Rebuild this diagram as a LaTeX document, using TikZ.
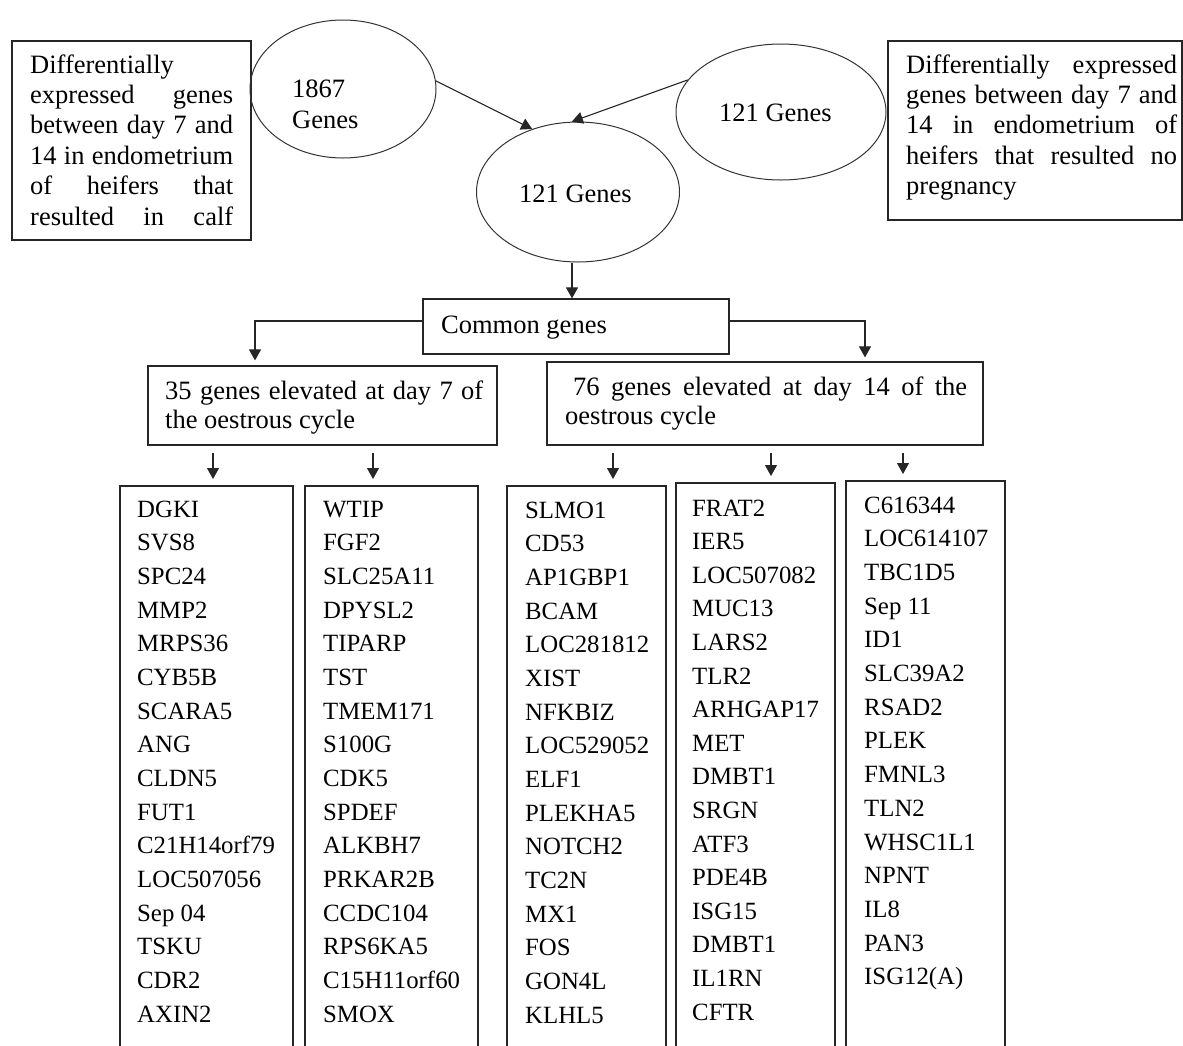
\documentclass[tikz,border=0pt]{standalone}
\usepackage{fontspec}
\setmainfont{Liberation Serif}
\usetikzlibrary{shapes.geometric,arrows.meta}
\begin{document}
\begin{tikzpicture}[x=1pt,y=-1pt,
 ln/.style={draw=black!85,line width=1.1pt},
 arr/.style={ln,-{Triangle[length=11pt,width=12pt]}},
 txt/.style={anchor=base west,inner sep=0pt,font=\fontsize{26.5}{30}\selectfont},
 gene/.style={anchor=base west,inner sep=0pt,font=\fontsize{24.8}{30}\selectfont},
 oval/.style={ellipse,draw=black!80,line width=1pt,inner sep=0pt},
 box/.style={draw=black!85,line width=1.2pt,rectangle,inner sep=0pt}]
\useasboundingbox (0,0) rectangle (1183,1045);

% top boxes
\node[box,minimum width=239pt,minimum height=199pt] (lbox) at (131.5,140.5) {};
\node[box,minimum width=294pt,minimum height=179pt] (rbox) at (1035,130.5) {};
\node[txt] (l1) at (30,73) {Differentially};
\node[txt] (l2) at (30,103.4) {\makebox[203pt][s]{expressed genes}};
\node[txt] (l3) at (30,133.8) {\makebox[203pt][s]{between day 7 and}};
\node[txt] (l4) at (30,164.2) {\makebox[203pt][s]{14 in endometrium}};
\node[txt] (l5) at (30,194.6) {\makebox[203pt][s]{of heifers that}};
\node[txt] (l6) at (30,225) {\makebox[203pt][s]{resulted in calf}};
\node[txt] (r1) at (906,73) {\makebox[271pt][s]{Differentially expressed}};
\node[txt] (r2) at (906,103.4) {\makebox[271pt][s]{genes between day 7 and}};
\node[txt] (r3) at (906,133.8) {\makebox[271pt][s]{14 in endometrium of}};
\node[txt] (r4) at (906,164.2) {\makebox[271pt][s]{heifers that resulted no}};
\node[txt] (r5) at (906,194.6) {pregnancy};

% ellipses
\node[oval,minimum width=186pt,minimum height=138pt] (e1) at (343,89) {};
\node[oval,minimum width=210pt,minimum height=136pt] (e2) at (781,112) {};
\node[oval,minimum width=203pt,minimum height=140pt] (e3) at (578,192) {};
\node[txt] (e1a) at (292,97) {1867};
\node[txt] (e1b) at (292,128) {Genes};
\node[txt] (e2a) at (719,121) {121 Genes};
\node[txt] (e3a) at (519,202) {121 Genes};

\draw[arr] (e1.5) -- (e3.126);
\draw[arr] (e2.161) -- (e3.95);

% common genes
\node[box,minimum width=306pt,minimum height=55pt] (cg) at (576,326.5) {};
\node[txt] (cgt) at (441,333) {Common genes};
\coordinate (e3b) at ([xshift=-6pt]e3.south);
\draw[arr] (e3b) -- (e3b |- cg.north);

\node[box,minimum width=349pt,minimum height=79pt] (b35) at (322.5,405.5) {};
\node[box,minimum width=436pt,minimum height=83pt] (b76) at (765,403.5) {};
\node[txt] (b35a) at (165,399) {\makebox[318pt][s]{35 genes elevated at day 7 of}};
\node[txt] (b35b) at (165,428) {the oestrous cycle};
\node[txt] (b76a) at (573,395) {\makebox[394pt][s]{76 genes elevated at day 14 of the}};
\node[txt] (b76b) at (565,424) {oestrous cycle};

\draw[arr,shorten >=5pt] ([yshift=5.5pt]cg.west) -| ([xshift=-67.5pt]b35.north);
\draw[arr,shorten >=4pt] ([yshift=5.5pt]cg.east) -| ([xshift=100pt]b76.north);

% list boxes (open at bottom)
\foreach \n/\xa/\xb/\yt/\xr in {1/120/293/486/213, 2/305/478/486/373, 3/507/666/486/613, 4/676/835/483/771, 5/846/1005/481/903}{
  \draw[ln] (\xa,1046) -- (\xa,\yt) -- (\xb,\yt) -- (\xb,1046);
  \coordinate (s\n) at (\xr,453);
  \coordinate (t\n) at (\xr,\yt);
  \draw[arr,shorten >=7pt] (s\n) -- (t\n);
}

\foreach \g [count=\i] in {DGKI,SVS8,SPC24,MMP2,MRPS36,CYB5B,SCARA5,ANG,CLDN5,FUT1,C21H14orf79,LOC507056,Sep 04,TSKU,CDR2,AXIN2}
  \node[gene] (ca\i) at (137,{517+33.67*(\i-1)}) {\g};
\foreach \g [count=\i] in {WTIP,FGF2,SLC25A11,DPYSL2,TIPARP,TST,TMEM171,S100G,CDK5,SPDEF,ALKBH7,PRKAR2B,CCDC104,RPS6KA5,C15H11orf60,SMOX}
  \node[gene] (cb\i) at (323,{517+33.67*(\i-1)}) {\g};
\foreach \g [count=\i] in {SLMO1,CD53,AP1GBP1,BCAM,LOC281812,XIST,NFKBIZ,LOC529052,ELF1,PLEKHA5,NOTCH2,TC2N,MX1,FOS,GON4L,KLHL5}
  \node[gene] (cc\i) at (525,{518+33.67*(\i-1)}) {\g};
\foreach \g [count=\i] in {FRAT2,IER5,LOC507082,MUC13,LARS2,TLR2,ARHGAP17,MET,DMBT1,SRGN,ATF3,PDE4B,ISG15,DMBT1,IL1RN,CFTR}
  \node[gene] (cd\i) at (692,{516+33.6*(\i-1)}) {\g};
\foreach \g [count=\i] in {C616344,LOC614107,TBC1D5,Sep 11,ID1,SLC39A2,RSAD2,PLEK,FMNL3,TLN2,WHSC1L1,NPNT,IL8,PAN3,ISG12(A)}
  \node[gene] (ce\i) at (864,{513+33.7*(\i-1)}) {\g};
\end{tikzpicture}
\end{document}
